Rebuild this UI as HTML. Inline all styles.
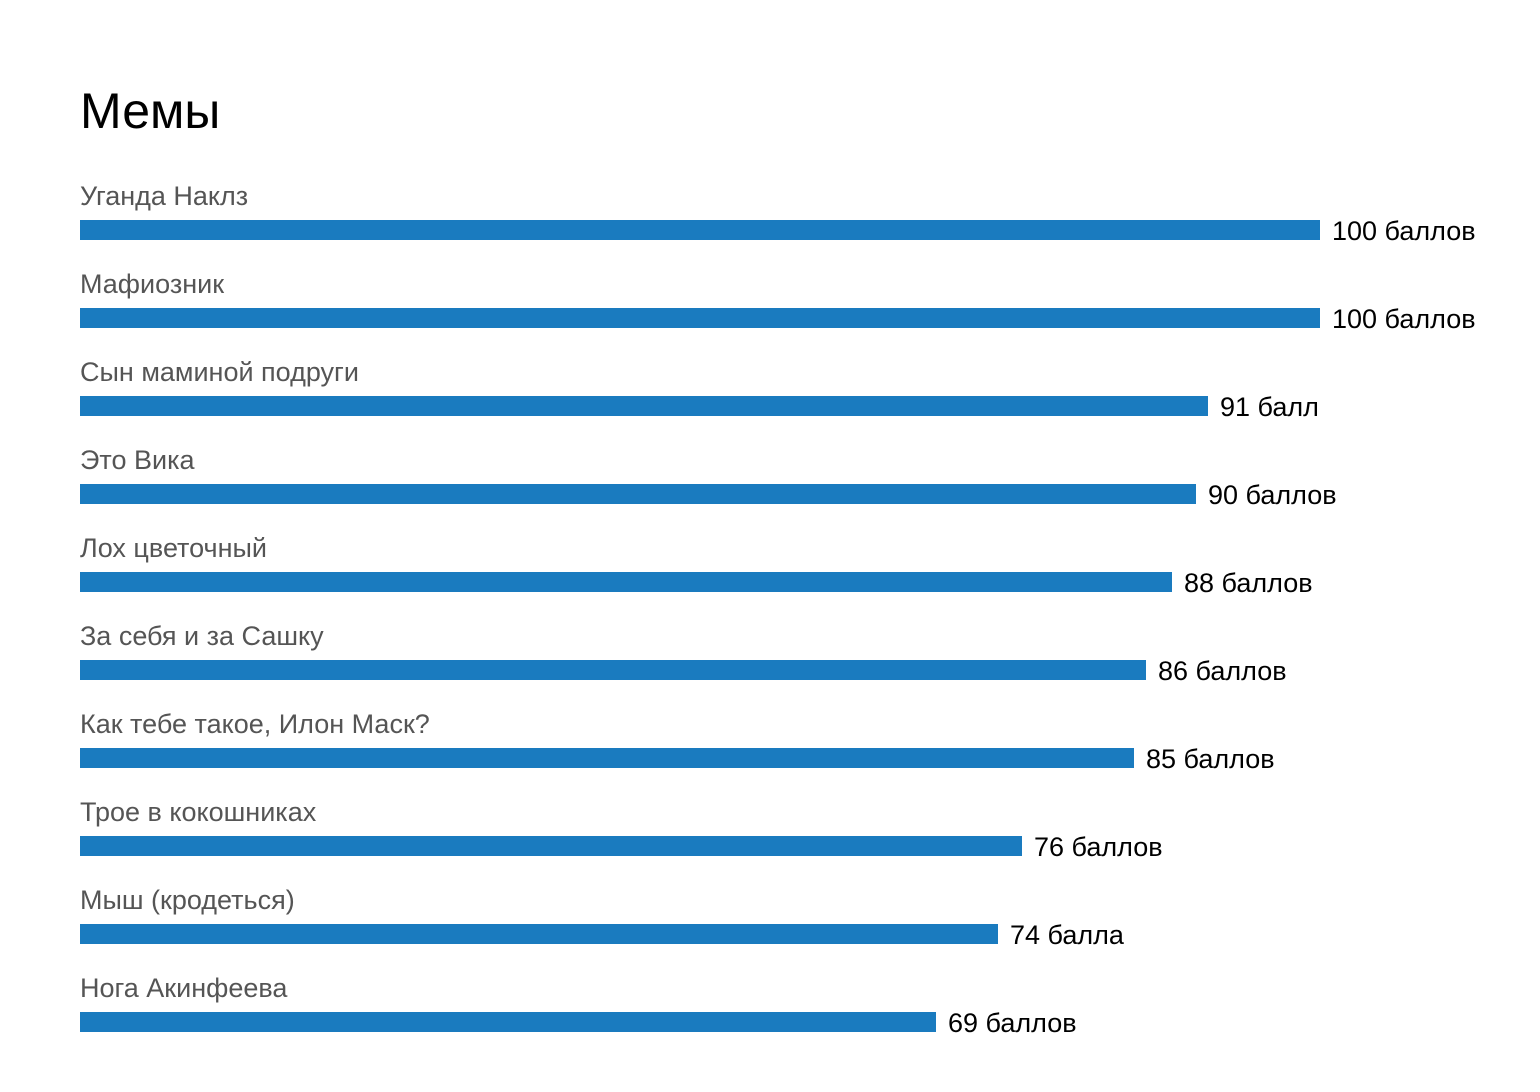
<!DOCTYPE html>
<html><head><meta charset="utf-8"><style>
body{margin:0;width:1540px;height:1092px;background:#fff;position:relative;overflow:hidden;font-family:"Liberation Sans",sans-serif}
.t{position:absolute;left:80px;top:82px;font-size:50px;color:#000;line-height:58px}
.l{position:absolute;left:80px;font-size:27px;color:#555;line-height:30px}
.b{position:absolute;left:80px;height:20px;background:#1a7bbf}
.v{position:absolute;font-size:27px;color:#000;line-height:30px}
</style></head><body>
<div class="t">Мемы</div>
<div class="l" style="top:181px">Уганда Наклз</div><div class="b" style="top:220px;width:1240px"></div><div class="v" style="top:216px;left:1332px">100 баллов</div>
<div class="l" style="top:269px">Мафиозник</div><div class="b" style="top:308px;width:1240px"></div><div class="v" style="top:304px;left:1332px">100 баллов</div>
<div class="l" style="top:357px">Сын маминой подруги</div><div class="b" style="top:396px;width:1128px"></div><div class="v" style="top:392px;left:1220px">91 балл</div>
<div class="l" style="top:445px">Это Вика</div><div class="b" style="top:484px;width:1116px"></div><div class="v" style="top:480px;left:1208px">90 баллов</div>
<div class="l" style="top:533px">Лох цветочный</div><div class="b" style="top:572px;width:1092px"></div><div class="v" style="top:568px;left:1184px">88 баллов</div>
<div class="l" style="top:621px">За себя и за Сашку</div><div class="b" style="top:660px;width:1066px"></div><div class="v" style="top:656px;left:1158px">86 баллов</div>
<div class="l" style="top:709px">Как тебе такое, Илон Маск?</div><div class="b" style="top:748px;width:1054px"></div><div class="v" style="top:744px;left:1146px">85 баллов</div>
<div class="l" style="top:797px">Трое в кокошниках</div><div class="b" style="top:836px;width:942px"></div><div class="v" style="top:832px;left:1034px">76 баллов</div>
<div class="l" style="top:885px">Мыш (кродеться)</div><div class="b" style="top:924px;width:918px"></div><div class="v" style="top:920px;left:1010px">74 балла</div>
<div class="l" style="top:973px">Нога Акинфеева</div><div class="b" style="top:1012px;width:856px"></div><div class="v" style="top:1008px;left:948px">69 баллов</div>
</body></html>
